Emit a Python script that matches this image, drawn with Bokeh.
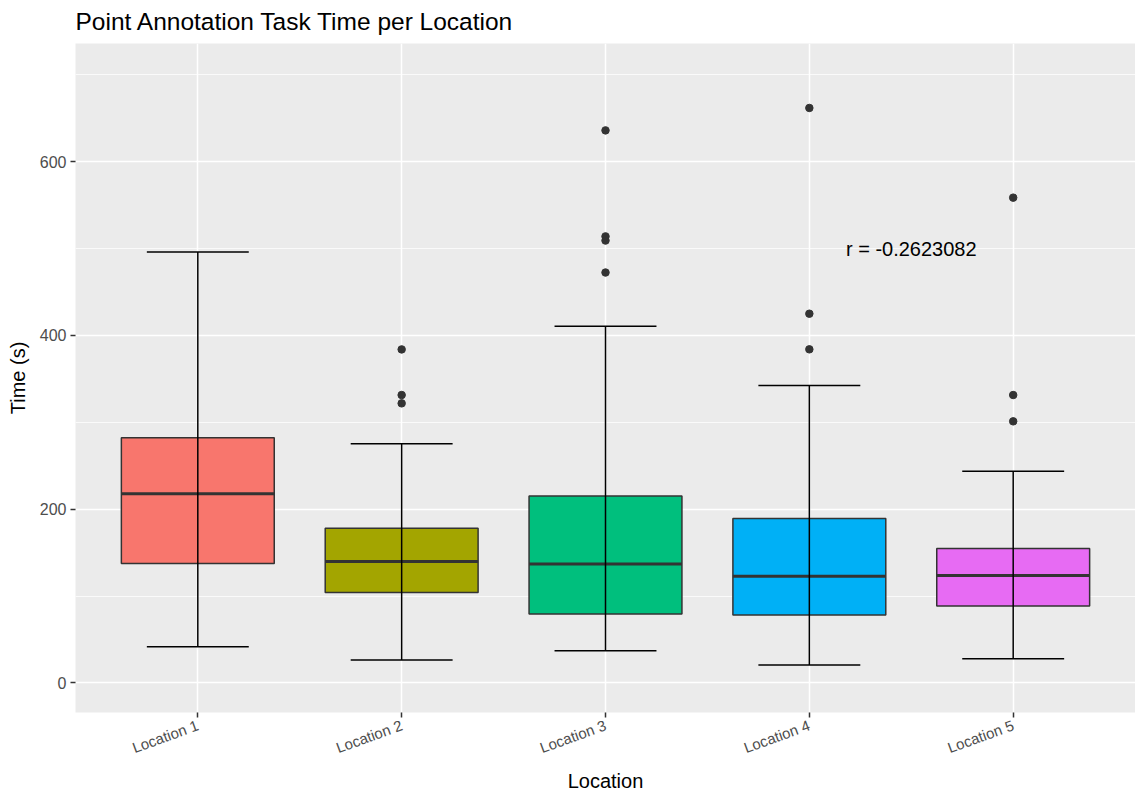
from bokeh.plotting import figure
from bokeh.models import Range1d, FixedTicker, ColumnDataSource
from bokeh.core.properties import value
from bokeh.embed import file_html
from bokeh.resources import INLINE
import math

# ---- data ----
categories = ["Location 1", "Location 2", "Location 3", "Location 4", "Location 5"]
q1 = [137.5, 104.1, 79.3, 78.3, 88.5]
median = [217.9, 139.8, 136.8, 122.8, 123.7]
q3 = [282.3, 178.2, 215.3, 189.2, 154.7]
whisker_low = [41.7, 26.4, 37.1, 20.8, 27.9]
whisker_high = [496.0, 275.4, 410.7, 342.5, 243.7]
outliers = [
    [],
    [383.9, 331.4, 321.8],
    [636.0, 514.0, 509.2, 472.4],
    [661.8, 425.0, 384.0],
    [558.6, 331.4, 301.1],
]
colors = ["#F8766D", "#A3A500", "#00BF7D", "#00B0F6", "#E76BF3"]
annotation_text = "r = -0.2623082"
annotation_x = 4.5
annotation_y = 500
y_ticks = [0, 200, 400, 600]
y_minor = [100, 300, 500, 700]

FONT = "Liberation Sans"

xs = [i + 1 for i in range(len(categories))]
box_w = 0.75
cap_w = 0.5

p = figure(
    frame_width=1060, frame_height=669,
    x_range=Range1d(0.4, 5.6), y_range=Range1d(-34, 736),
    output_backend="svg", toolbar_location=None,
    title="Point Annotation Task Time per Location",
    min_border_left=75, min_border_right=0, min_border_top=42, min_border_bottom=0,
)

p.background_fill_color = "#EBEBEB"
p.border_fill_color = "white"
p.outline_line_color = None

# title
p.title.text_font = FONT
p.title.text_font_size = "24.5px"
p.title.text_font_style = "normal"
p.title.text_color = "black"
p.title.align = "left"
p.title.standoff = 14
p.title.vertical_align = "top"

# grids
p.xgrid.ticker = FixedTicker(ticks=xs)
p.xgrid.grid_line_color = "white"
p.xgrid.grid_line_width = 1.5
p.ygrid.ticker = FixedTicker(ticks=y_ticks, minor_ticks=y_minor)
p.ygrid.grid_line_color = "white"
p.ygrid.grid_line_width = 1.5
p.ygrid.minor_grid_line_color = "white"
p.ygrid.minor_grid_line_width = 0.75

# axes
p.xaxis.ticker = FixedTicker(ticks=xs)
p.xaxis.major_label_overrides = {x: c for x, c in zip(xs, categories)}
p.xaxis.major_label_orientation = math.radians(20)
p.yaxis.ticker = FixedTicker(ticks=y_ticks)
for ax in (p.xaxis[0], p.yaxis[0]):
    ax.axis_line_color = None
    ax.major_tick_line_color = "#333333"
    ax.major_tick_line_width = 1.5
    ax.major_tick_in = 0
    ax.major_tick_out = 5
    ax.minor_tick_line_color = None
    ax.major_label_text_font = FONT
    ax.major_label_text_font_size = "16px"
    ax.major_label_text_color = "#4D4D4D"
    ax.major_label_standoff = 4
    ax.axis_label_text_font = FONT
    ax.axis_label_text_font_size = "20px"
    ax.axis_label_text_font_style = "normal"
    ax.axis_label_text_color = "black"
p.xaxis.major_label_text_font_size = "15px"
p.xaxis.major_label_standoff = 7
p.xaxis.axis_label = "Location"
p.yaxis.axis_label = "Time (s)"
p.xaxis.axis_label_standoff = 3
p.yaxis.axis_label_standoff = 8

# boxes
src = ColumnDataSource(dict(x=xs, q1=q1, q3=q3, med=median, lo=whisker_low, hi=whisker_high,
                            color=colors,
                            x0=[x - box_w / 2 for x in xs], x1=[x + box_w / 2 for x in xs],
                            c0=[x - cap_w / 2 for x in xs], c1=[x + cap_w / 2 for x in xs]))
p.vbar(x="x", width=box_w, top="q3", bottom="q1", fill_color="color",
       line_color="#333333", line_width=1.5, source=src)
p.segment(x0="x0", y0="med", x1="x1", y1="med", line_color="#333333", line_width=3, source=src)

# outliers
ox, oy = [], []
for x, vals in zip(xs, outliers):
    for v in vals:
        ox.append(x)
        oy.append(v)
p.scatter(ox, oy, size=7.5, fill_color="#333333", line_color="#333333")

# error bars (drawn over the boxes)
p.segment(x0="x", y0="lo", x1="x", y1="hi", line_color="black", line_width=1.5, source=src)
p.segment(x0="c0", y0="hi", x1="c1", y1="hi", line_color="black", line_width=1.5, source=src)
p.segment(x0="c0", y0="lo", x1="c1", y1="lo", line_color="black", line_width=1.5, source=src)

# annotation
p.text(x=[annotation_x], y=[annotation_y], text=[annotation_text],
       text_font=value(FONT), text_font_size="20px", text_color="black",
       text_align="center", text_baseline="middle")

open("out.html", "w").write(file_html(p, INLINE))
